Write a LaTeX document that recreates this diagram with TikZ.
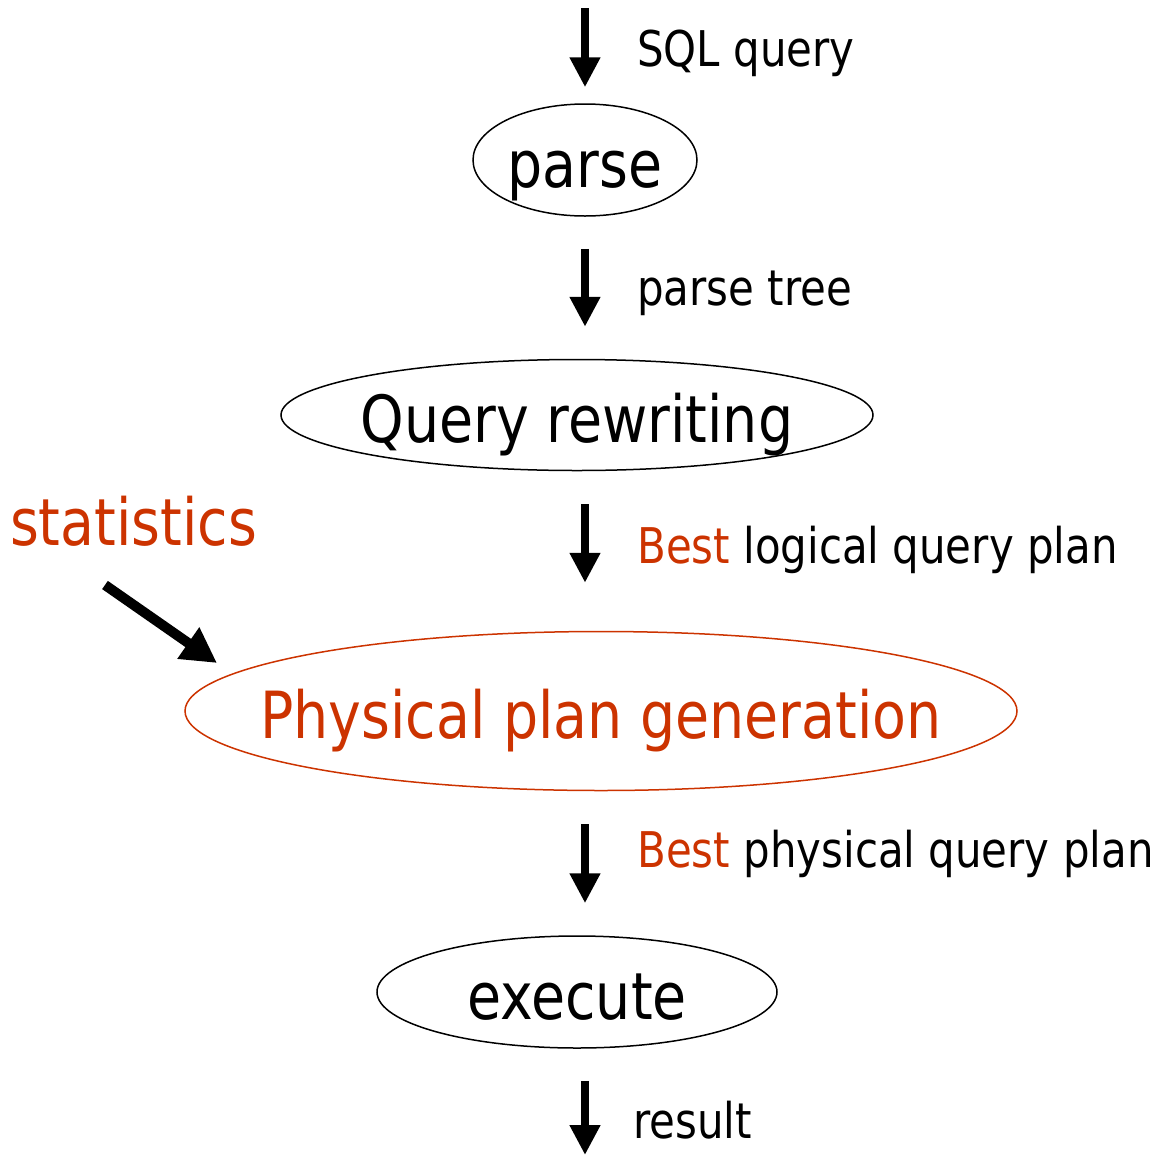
\documentclass[tikz,border=0pt]{standalone}
\usepackage{fontspec}
\setmainfont{DejaVu Sans}[FakeStretch=0.852]
\usetikzlibrary{arrows.meta,shapes.geometric}
\definecolor{accent}{RGB}{204,51,0}
\begin{document}
\begin{tikzpicture}[x=1cm,y=1cm,
  stage/.style={draw, ellipse, line width=0.03cm, inner sep=0pt},
  bigtext/.style={font=\fontsize{37}{40}\selectfont, inner sep=0pt, text height=1.08cm, text depth=0cm},
  steplabel/.style={font=\fontsize{28}{32}\selectfont, anchor=base west, inner sep=0pt},
  flow/.style={line width=0.16cm, -{Triangle[width=0.58cm,length=0.6cm]}, shorten <=0.64cm, shorten >=0.64cm}]
\useasboundingbox (0,0) rectangle (23.08,-23.14);
\node[stage, minimum width=4.48cm, minimum height=2.24cm, label={[bigtext]center:parse}] (parse) at (11.70,-3.20) {};
\node[stage, minimum width=11.84cm, minimum height=2.22cm, label={[bigtext]center:Query rewriting}] (rewrite) at (11.54,-8.30) {};
\node[stage, draw=accent, minimum width=16.64cm, minimum height=3.18cm, label={[bigtext, text=accent]center:Physical plan generation}] (phys) at (12.02,-14.22) {};
\node[stage, minimum width=8.00cm, minimum height=2.24cm, label={[bigtext]center:execute}] (exec) at (11.54,-19.84) {};
\node[font=\fontsize{37}{40}\selectfont, text=accent, anchor=base, inner sep=0pt] (stats) at (2.67,-10.90) {statistics};
\coordinate (query) at (11.70,-0.16);
\coordinate (result) at (11.70,-23.10);
\coordinate (stattail) at (2.10,-11.70);
\coordinate (stattip) at (4.34,-13.26);
\draw[flow, shorten <=0cm, shorten >=0.32cm] (query) -- (parse);
\draw[flow] (parse.south) -- (parse.south |- rewrite.north);
\draw[flow, shorten <=0.66cm, shorten >=0.96cm] (parse.south |- rewrite.south) -- (parse.south |- phys.north);
\draw[flow, shorten <=0.66cm] (parse.south |- phys.south) -- (parse.south |- exec.north);
\draw[flow, shorten >=0cm] (parse.south |- exec.south) -- (result);
\draw[line width=0.2cm, -{Triangle[width=0.72cm,length=0.7cm]}] (stattail) -- (stattip);
\node[steplabel] (sqllabel) at (12.74,-1.32) {SQL query};
\node[steplabel] (treelabel) at (12.74,-6.10) {parse tree};
\node[steplabel] (logicallabel) at (12.74,-11.26) {{\color{accent}Best} logical query plan};
\node[steplabel] (physlabel) at (12.74,-17.34) {{\color{accent}Best} physical query plan};
\node[steplabel] (resultlabel) at (12.66,-22.76) {result};
\end{tikzpicture}
\end{document}
